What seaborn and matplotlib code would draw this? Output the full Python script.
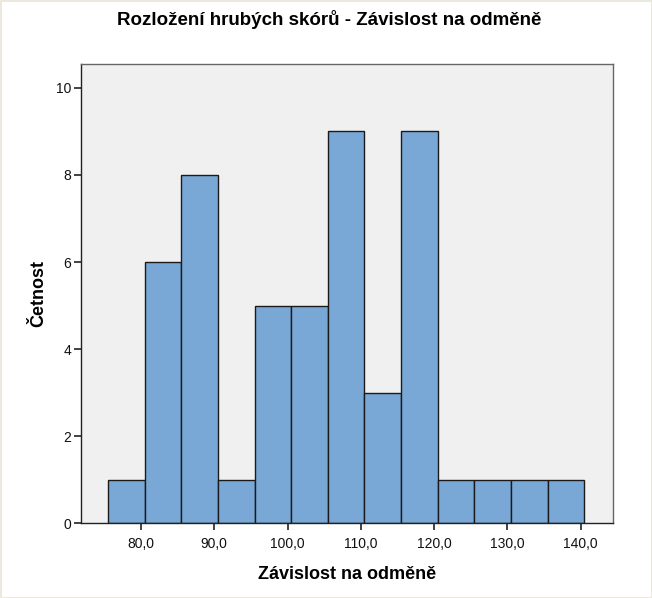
import matplotlib
matplotlib.use("Agg")
import matplotlib.pyplot as plt
import seaborn as sns
from matplotlib.ticker import FuncFormatter

# Histogram bins (bin centres) and counts
bin_centers = [78, 83, 88, 93, 98, 103, 108, 113, 118, 123, 128, 133, 138]
counts = [1, 6, 8, 1, 5, 5, 9, 3, 9, 1, 1, 1, 1]
bin_edges = [75.5 + 5 * i for i in range(len(bin_centers) + 1)]

x_ticks = [80, 90, 100, 110, 120, 130, 140]
y_ticks = [0, 2, 4, 6, 8, 10]

sns.set_style("white")
plt.rcParams["font.family"] = ["Liberation Sans", "DejaVu Sans"]
plt.rcParams["text.color"] = "black"
plt.rcParams["axes.labelcolor"] = "black"

fig = plt.figure(figsize=(6.52, 5.98), dpi=100)
fig.patch.set_edgecolor("#ECE9DC")
fig.patch.set_linewidth(2)
ax = fig.add_axes([0.124, 0.125, 0.816, 0.768])
ax.set_facecolor("#F0F0F0")

sns.histplot(
    x=bin_centers, weights=counts, bins=bin_edges, ax=ax,
    color="#79A8D6", edgecolor="#1A1A1A", linewidth=1.0, alpha=1.0,
)

ax.set_xlim(71.8, 144.4)
ax.set_ylim(0, 10.55)
ax.set_xticks(x_ticks)
ax.set_yticks(y_ticks)
ax.xaxis.set_major_formatter(FuncFormatter(lambda v, p: f"{v:.1f}".replace(".", ",")))
ax.tick_params(axis="both", bottom=True, left=True, direction="out", length=5,
               width=1.2, color="#222222", labelsize=10, labelcolor="#111111", pad=2)
ax.tick_params(axis="x", pad=5)

for s in ax.spines.values():
    s.set_color("#666666")
    s.set_linewidth(1.0)
ax.spines["left"].set_color("#222222")
ax.spines["bottom"].set_color("#222222")

# title is centred on the figure, not on the axes
fig.text(0.505, 0.968, "Rozložení hrubých skórů - Závislost na odměně",
         ha="center", va="center", fontsize=13.5, fontweight="bold", color="black")
ax.set_xlabel("Závislost na odměně", fontsize=13, fontweight="bold", labelpad=11)
ax.set_ylabel("Četnost", fontsize=13, fontweight="bold", labelpad=6)

fig.savefig("out.png", dpi=100, edgecolor=fig.get_edgecolor())
